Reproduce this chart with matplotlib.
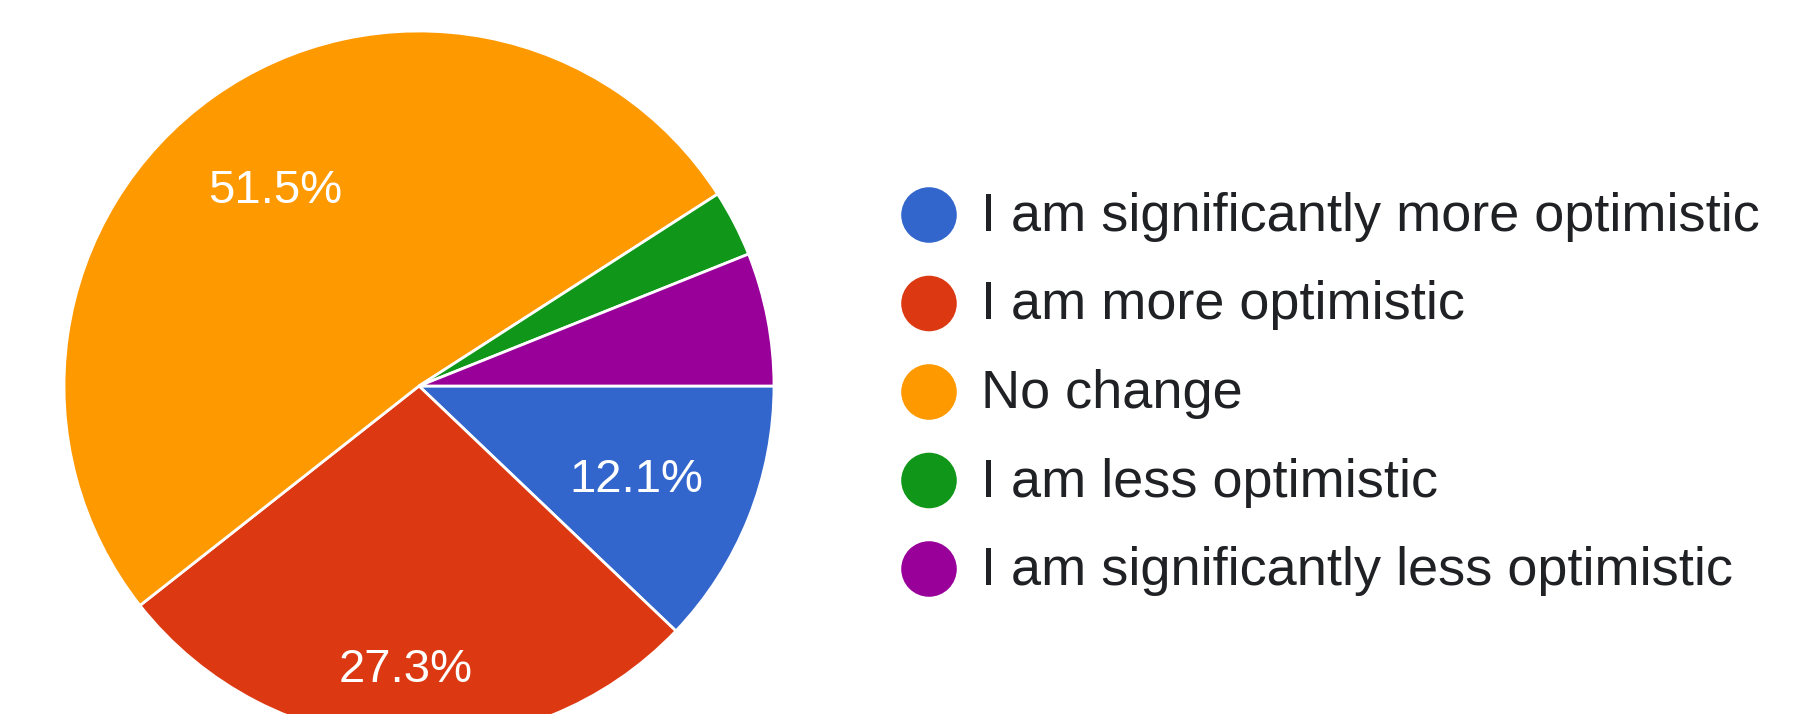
import matplotlib
matplotlib.use("Agg")
import matplotlib.pyplot as plt
import numpy as np

plt.rcParams['font.family'] = ['Liberation Sans', 'DejaVu Sans']

labels = ['I am significantly more optimistic', 'I am more optimistic', 'No change',
          'I am less optimistic', 'I am significantly less optimistic']
counts = [4, 9, 17, 1, 2]
colors = ['#3366cc', '#dc3912', '#ff9900', '#109618', '#990099']
# per-slice label distance from the centre (fraction of radius)
label_dist = [0.66, 0.78, 0.70, 0.7, 0.7]

W, H = 1808, 714
fig = plt.figure(figsize=(W / 100, H / 100), dpi=100)

# pie axes, centred at (419, 386) px with radius 355 px
cx, cy, r = 419, 386, 355
ax = fig.add_axes([(cx - r) / W, (H - cy - r) / H, 2 * r / W, 2 * r / H])
wedges, texts, autotexts = ax.pie(
    counts, colors=colors, startangle=0, counterclock=False,
    autopct=lambda p: f'{p:.1f}%' if p > 10 else '',
    pctdistance=0.7, radius=1.0,
    wedgeprops=dict(edgecolor='white', linewidth=2),
    textprops=dict(color='white', fontsize=34))
ax.set_xlim(-1, 1)
ax.set_ylim(-1, 1)
ax.set_aspect('equal')
ax.axis('off')

# move percentage labels onto their own radius
for w, t, d in zip(wedges, autotexts, label_dist):
    ang = np.deg2rad((w.theta1 + w.theta2) / 2)
    t.set_position((d * np.cos(ang), d * np.sin(ang) - 0.02))

# legend drawn by hand on a full-figure overlay
lax = fig.add_axes([0, 0, 1, 1], zorder=-1)
lax.set_xlim(0, W)
lax.set_ylim(H, 0)
lax.axis('off')
row0, step = 215, 88.5
for i, (lab, col) in enumerate(zip(labels, colors)):
    y = row0 + i * step
    lax.scatter([929], [y], s=40 ** 2, color=col, edgecolors='none')
    lax.text(981, y + 2, lab, fontsize=39, color='#202124', va='center', ha='left')

fig.savefig('out.png', dpi=100)
